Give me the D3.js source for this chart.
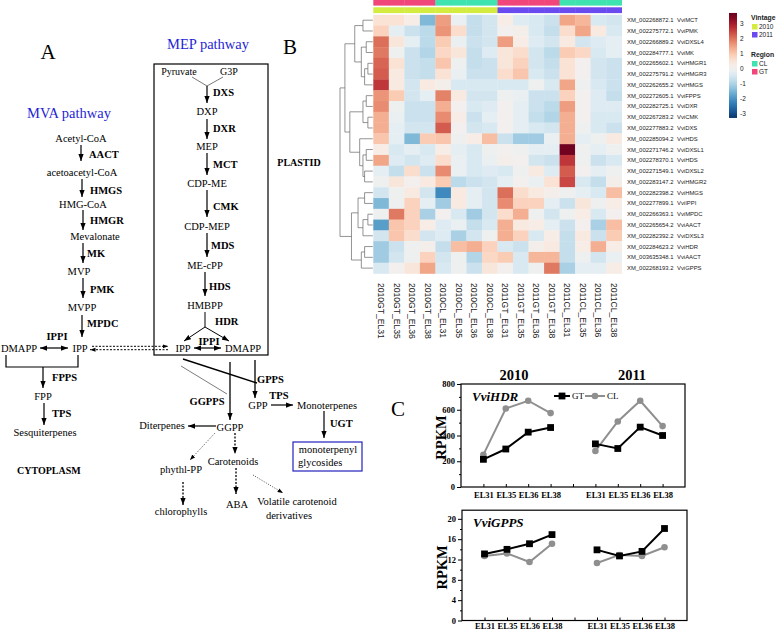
<!DOCTYPE html>
<html><head><meta charset="utf-8">
<script src="https://cdn.jsdelivr.net/npm/d3@7"></script>
<style>body{margin:0;background:#fff}svg{display:block}</style>
</head><body>
<svg id="c" width="779" height="633"></svg>
<script>
// ================= DATA =================
// --- Panel B heatmap ---
const heatColumns = ["2010GT_EL31","2010GT_EL35","2010GT_EL36","2010GT_EL38","2010CL_EL31","2010CL_EL35","2010CL_EL36","2010CL_EL38",
                     "2011GT_EL31","2011GT_EL35","2011GT_EL36","2011GT_EL38","2011CL_EL31","2011CL_EL35","2011CL_EL36","2011CL_EL38"];
const columnVintage = ["2010","2010","2010","2010","2010","2010","2010","2010","2011","2011","2011","2011","2011","2011","2011","2011"];
const columnRegion  = ["GT","GT","GT","GT","CL","CL","CL","CL","GT","GT","GT","GT","CL","CL","CL","CL"];
const geneIds = ["XM_002268872.1","XM_002275772.1","XM_002266889.2","XM_002284777.1","XM_002265602.1","XM_002275791.2",
  "XM_002262655.2","XM_002272605.1","XM_002282725.1","XM_002267283.2","XM_002277883.2","XM_002285094.2","XM_002271746.2",
  "XM_002278370.1","XM_002271549.1","XM_002283147.2","XM_002282398.2","XM_002277899.1","XM_002266363.1","XM_002265654.2",
  "XM_002282392.2","XM_002284623.2","XM_003635348.1","XM_002268193.2"];
const geneNames = ["VviMCT","VviPMK","VviDXSL4","VviMK","VviHMGR1","VviHMGR3","VviHMGS","VviFPPS","VviDXR","VviCMK","VviDXS",
  "VviHDS","VviDXSL1","VviHDS","VviDXSL2","VviHMGR2","VviHMGS","VviIPPI","VviMPDC","VviAACT","VviDXSL3","VviHDR","VviAACT","VviGPPS"];
const heatValues = [
 [0.5,0.5,0.2,-1.5,1.5,-0.2,-0.8,-0.6, 0.2,-0.4,-0.5,-0.7,1.4,1.2,-0.5,-0.6],
 [0.8,-0.3,-0.7,-0.9,1.6,0.6,-0.8,-0.6, 0,0.1,-0.5,-0.8,0.6,1.4,0.3,-0.5],
 [2.0,0.4,-0.3,-0.9,0.9,-0.2,-0.7,-0.6, 1.5,0.2,-0.4,-0.6,0.3,-0.6,-0.4,-0.3],
 [1.9,-0.1,-0.7,-1.0,0.7,0.4,-0.8,-0.4, 0.4,0.6,-0.6,-0.9,0.9,0.7,-0.5,-0.3],
 [2.1,0.5,-0.7,-0.8,1.0,-0.1,-0.8,-0.7, 0.4,0.8,-0.6,-0.8,0.5,0,-0.6,-0.7],
 [2.2,0.3,-0.7,-0.8,0.5,-0.2,-0.7,-0.7, 0.6,1.0,-0.5,-0.7,0.5,0,-0.6,-0.7],
 [2.6,0.3,-0.6,0.3,0.1,-0.5,-0.5,-0.5, -0.5,-0.5,-0.1,-0.5,1.4,-0.1,-0.5,-0.7],
 [1.6,0.9,-0.6,-0.3,1.8,0.3,-0.6,-0.6, -0.1,-0.2,-0.7,-0.7,0.8,0,-0.4,-0.8],
 [1.7,-0.1,-0.7,-0.7,1.3,0,-0.5,-0.4, 0,-0.3,-0.7,-0.9,1.5,0,-0.4,-0.4],
 [1.3,-0.2,-0.7,-0.7,1.7,0.2,-0.7,-0.3, 0,-0.3,-0.8,-1.0,1.3,0,-0.5,-0.5],
 [1.3,-0.3,-0.6,-0.6,2.2,0,-0.6,-0.5, 0,-0.3,-0.5,-0.6,1.3,-0.1,-0.5,-0.7],
 [1.0,-0.3,-1.5,0.9,1.0,-0.1,0.2,1.1, -0.7,-1.2,-1.2,-0.2,1.3,-0.3,-0.1,0.3],
 [0.2,-0.5,-0.3,-0.5,0.2,-0.3,-0.5,-0.1, 0,-0.1,-0.3,-0.3,3.5,-0.1,-0.3,-0.1],
 [1.4,-0.4,-0.6,-0.4,0.6,-0.2,-0.5,-0.2, 0.1,0,-0.6,-0.7,2.6,-0.1,-0.7,-0.5],
 [-0.3,-0.8,0.6,-0.7,1.7,-0.2,-0.5,-0.4, -0.5,-0.1,0.3,-0.4,2.2,0,-0.3,-0.1],
 [-0.1,0.4,0,0.3,0.9,-0.9,-0.7,-0.6, -0.3,0,-0.2,0.5,2.4,-0.5,-0.8,0.1],
 [-0.6,-0.1,0.3,-0.6,-2.2,0.3,-0.3,-0.6, 2.0,0.6,0.3,0.1,-0.1,-0.3,-0.5,1.1],
 [-1.5,-0.1,0.8,-0.3,-1.2,0.3,-0.3,-0.6, 1.7,0.8,0.8,-0.3,-0.7,0.4,-0.1,0.2],
 [-0.1,1.9,0.8,-1.1,0,-0.5,-1.2,-0.6, 0.6,1.3,-0.1,-0.6,-0.1,0.2,-0.5,0],
 [-1.9,1.0,0.8,0.2,-0.4,-0.2,-0.8,-0.5, 1.3,0.3,0.2,-0.3,-0.7,0,-1.1,1.1],
 [-0.6,1.0,0.6,-0.6,-0.4,-1.1,-0.6,-0.1, 1.3,0.8,-0.5,0.2,-0.8,0.3,-0.7,0.9],
 [-1.2,-0.7,-0.1,0.1,-0.8,1.1,1.3,0.8, -0.5,-0.7,0.1,0.3,-0.8,0.2,1.3,0.2],
 [-1.2,-0.6,-0.1,0.8,-0.6,-0.1,-1.0,0.7, 0.9,-0.5,1.2,1.2,-0.8,-0.1,-0.6,-0.2],
 [-0.5,0,0.4,1.4,-0.5,-0.1,-0.7,0.4, 0,-0.5,-0.1,1.9,-1.1,-0.3,-0.3,0.2]
];
// row dendrogram: [height, left, right]; leaves = row index
const rowTree = [10,
  [8.5,
    [5.5, [3,0,1], [3.5,[2,2,3],[2.5,[1.5,4,5],6]]],
    [7, [3,[2,7,8],[1.5,9,10]], [4,11,[3,[2,12,13],[2.5,14,15]]]]
  ],
  [6.5, [4.5,[2.5,16,17],[3,[1.5,18,19],20]], [3.5,[2.5,21,22],23]]
];
const colorTicks = [3,2,1,0,-1,-2,-3];
const vintageLevels = ["2010","2011"];
const regionLevels = ["CL","GT"];

// --- Panel C line charts ---
const stages = ["EL31","EL35","EL36","EL38"];
const years = ["2010","2011"];
const hdrGT  = [[215,295,426,462],[335,299,465,400]];
const hdrCL  = [[251,610,670,574],[280,509,670,473]];
const gppsGT = [[13.1,14.0,15.1,16.9],[13.9,12.7,13.6,18.1]];
const gppsCL = [[12.7,13.2,11.5,15.1],[11.3,12.9,12.7,14.4]];
const hdrTicks = [0,200,400,600,800];
const gppsTicks = [0,4,8,12,16,20];

// --- Panel A pathway labels ---
const mvaMetabolites = ["Acetyl-CoA","acetoacetyl-CoA","HMG-CoA","Mevalonate","MVP","MVPP","IPP","DMAPP","FPP","Sesquiterpenes"];
const mvaEnzymes = ["AACT","HMGS","HMGR","MK","PMK","MPDC","IPPI","FPPS","TPS"];
const mepMetabolites = ["Pyruvate","G3P","DXP","MEP","CDP-ME","CDP-MEP","ME-cPP","HMBPP","IPP","DMAPP"];
const mepEnzymes = ["DXS","DXR","MCT","CMK","MDS","HDS","HDR","IPPI"];
const downstreamProducts = ["GPP","Monoterpenes","GGPP","Diterpenes","Carotenoids","phythl-PP","chlorophylls","ABA","Volatile carotenoid","derivatives","monoterpenyl","glycosides"];
const downstreamEnzymes = ["GPPS","GGPPS","TPS","UGT"];

// ================= DRAW =================
const svg = d3.select("#c");
const SERIF = "'Liberation Serif','Times New Roman',serif";
const SANS = "'Liberation Sans',Arial,sans-serif";
const defs = svg.append("defs");
defs.append("marker").attr("id","ah").attr("viewBox","0 0 8 6").attr("refX",8).attr("refY",3)
  .attr("markerWidth",7).attr("markerHeight",5.5).attr("markerUnits","userSpaceOnUse").attr("orient","auto-start-reverse")
  .append("path").attr("d","M0,0L8,3L0,6Z").attr("fill","#000");
defs.append("marker").attr("id","ahs").attr("viewBox","0 0 8 6").attr("refX",8).attr("refY",3)
  .attr("markerWidth",5.5).attr("markerHeight",4.5).attr("markerUnits","userSpaceOnUse").attr("orient","auto-start-reverse")
  .append("path").attr("d","M0,0L8,3L0,6Z").attr("fill","#000");

// ---------- Panel A ----------
const gA = svg.append("g");
function txt(s,x,y,o={}){
  return gA.append("text").attr("x",x).attr("y",y).text(s)
   .attr("font-family",SERIF).attr("font-size",o.size||10.5)
   .attr("font-weight",o.bold?"bold":"normal").attr("font-style",o.italic?"italic":"normal")
   .attr("fill",o.fill||"#000").attr("text-anchor",o.anchor||"middle").attr("dominant-baseline","central");
}
function line(x1,y1,x2,y2,o={}){
  const l=gA.append("line").attr("x1",x1).attr("y1",y1).attr("x2",x2).attr("y2",y2)
   .attr("stroke",o.stroke||"#000").attr("stroke-width",o.w||1.2);
  if(o.dash) l.attr("stroke-dasharray",o.dash);
  if(o.end) l.attr("marker-end","url(#"+o.end+")");
  if(o.start) l.attr("marker-start","url(#"+o.start+")");
  return l;
}
txt("A",48,52,{size:21});
txt("B",290,47,{size:21});
txt("C",398,409,{size:21});
txt("MEP pathway",208,44,{size:14.5,fill:"#1f1fd6"});
txt("MVA pathway",69,113,{size:14.5,fill:"#1f1fd6"});
txt("PLASTID",299,162,{bold:true,size:10});
txt("CYTOPLASM",17,470,{bold:true,size:10,anchor:"start"});

// MVA layout
const mvaMetPos = [[81,138],[82,172],[83,204],[95,236],[79,271],[82,307],[80,348],[19,348],[43,396],[45,432]];
mvaMetabolites.forEach((s,i)=>txt(s,mvaMetPos[i][0],mvaMetPos[i][1],{size:10.5}));
const mvaEnzPos = [[89,154,"start"],[90,190,"start"],[90,220,"start"],[87,253,"start"],[90,289,"start"],[87,323,"start"],[57,336,"middle"],[52,377,"start"],[52,413,"start"]];
mvaEnzymes.forEach((s,i)=>txt(s,mvaEnzPos[i][0],mvaEnzPos[i][1],{bold:true,anchor:mvaEnzPos[i][2]}));
[[81,145,81,161],[82,179,82,197],[83,210,83,230],[83,243,83,263],[83,278,83,298],[82,315,82,337],[43,367,43,388],[44,403,44,425]]
  .forEach(a=>line(a[0],a[1],a[2],a[3],{end:"ah"}));
line(40,348,68,348,{start:"ah",end:"ah"});
gA.append("polyline").attr("points","6,355 6,367 78,367 78,355").attr("fill","none").attr("stroke","#000").attr("stroke-width",1.2);
line(92,346.3,168,346.3,{dash:"2,1.5",end:"ahs",w:1});
line(168,349.7,90,349.7,{dash:"2,1.5",end:"ahs",w:1});

// MEP box
gA.append("rect").attr("x",154).attr("y",64).attr("width",114).attr("height",291).attr("fill","none").attr("stroke","#000").attr("stroke-width",1.2);
const mepMetPos = [[179,71],[229,71],[207,111],[207,146],[207,183],[207,226],[205,265],[205,305],[183,348],[243,348]];
mepMetabolites.forEach((s,i)=>txt(s,mepMetPos[i][0],mepMetPos[i][1],{size:(i<2?10:10.5)}));
const mepEnzPos = [[213,92,"start"],[213,128,"start"],[213,164,"start"],[213,206,"start"],[211,245,"start"],[209,286,"start"],[215,321,"start"],[209,341,"middle"]];
mepEnzymes.forEach((s,i)=>txt(s,mepEnzPos[i][0],mepEnzPos[i][1],{bold:true,anchor:mepEnzPos[i][2]}));
line(192,77,207,86,{w:0.8,stroke:"#555"}); line(223,77,207,86,{w:0.8,stroke:"#555"});
[[207,86,207,103],[207,119,207,139],[207,153,207,175],[207,190,207,217],[207,233,207,257],[205,272,205,296]]
  .forEach(a=>line(a[0],a[1],a[2],a[3],{end:"ah"}));
line(205,312,205,327,{w:1});
line(205,327,184,341,{end:"ah",w:1}); line(205,327,229,341,{end:"ah",w:1});
line(194,348,221,348,{start:"ah",end:"ah"});

// downstream
line(183,359,257,383,{w:1.4});
line(181,366,227,394,{w:0.7,stroke:"#444"});
line(230,362,230,420,{end:"ah",w:1.3});
line(255,360,255,398,{end:"ah",w:1.3});
line(271,405,293,405,{end:"ah"});
line(324,411,324,438,{end:"ah"});
line(216,426,188,426,{end:"ah"});
line(235,433,235,454,{dash:"2,1.5",end:"ah",w:1.3});
line(215,433,190,460,{dash:"1,1.5",end:"ahs",w:0.7});
line(183,482,183,505,{dash:"2,1.5",end:"ah",w:1.3});
line(236,468,236,494,{dash:"2,1.5",end:"ah",w:1.3});
line(253,475,283,493,{dash:"1,1.5",end:"ahs",w:0.7});
gA.append("rect").attr("x",293).attr("y",442).attr("width",69).attr("height",29).attr("fill","none").attr("stroke","#2222bb").attr("stroke-width",1.2);
const downPos = [[258,405,"middle"],[327,405,"middle"],[230,427,"middle"],[162,425,"middle"],[233,461,"middle"],[181,469,"middle"],[181,511,"middle"],[237,504,"middle"],[297,501,"middle"],[289,515,"middle"],[328,449,"middle"],[298,462,"start"]];
downstreamProducts.forEach((s,i)=>txt(s,downPos[i][0],downPos[i][1],{anchor:downPos[i][2]}));
const downEnzPos = [[257,379,"start"],[207,401,"middle"],[279,395,"middle"],[330,423,"start"]];
downstreamEnzymes.forEach((s,i)=>txt(s,downEnzPos[i][0],downEnzPos[i][1],{bold:true,anchor:downEnzPos[i][2]}));

// ---------- Panel B heatmap ----------
const gB = svg.append("g");
const nCol = heatColumns.length, nRow = geneIds.length;
const hx = d3.scaleBand().domain(d3.range(nCol)).range([373.3,621.7]);
const hy = d3.scaleBand().domain(d3.range(nRow)).range([14.8,273.5]);
const hcolor = d3.scaleDiverging(t=>d3.interpolateRdBu(1-t)).domain([-3.4,0,3.6]);
heatValues.forEach((row,r)=>row.forEach((v,c)=>{
  gB.append("rect").attr("x",hx(c)).attr("y",hy(r)).attr("width",hx.bandwidth()+0.3).attr("height",hy.bandwidth()+0.3).attr("fill",hcolor(v));
}));
const vintageColor = d3.scaleOrdinal().domain(vintageLevels).range(["#d4eb3f","#6a4bef"]);
const regionColor = d3.scaleOrdinal().domain(regionLevels).range(["#3ee3b0","#f0467a"]);
columnRegion.forEach((g,c)=>gB.append("rect").attr("x",hx(c)).attr("y",0).attr("width",hx.bandwidth()+0.3).attr("height",5.6).attr("fill",regionColor(g)));
columnVintage.forEach((g,c)=>gB.append("rect").attr("x",hx(c)).attr("y",7.3).attr("width",hx.bandwidth()+0.3).attr("height",5.8).attr("fill",vintageColor(g)));
// column labels
heatColumns.forEach((s,c)=>{
  gB.append("text").attr("transform",`translate(${hx(c)+hx.bandwidth()/2},283) rotate(90)`)
   .attr("font-family",SANS).attr("font-size",8.6).attr("dominant-baseline","central").attr("fill","#222").text(s);
});
geneIds.forEach((s,r)=>{
  const y=hy(r)+hy.bandwidth()/2;
  gB.append("text").attr("x",627).attr("y",y).attr("font-family",SANS).attr("font-size",5.9).attr("dominant-baseline","central").attr("fill","#222").text(s);
  gB.append("text").attr("x",677).attr("y",y).attr("font-family",SANS).attr("font-size",5.9).attr("dominant-baseline","central").attr("fill","#222").text(geneNames[r]);
});
// dendrogram
const dx = d3.scaleLinear().domain([0,10]).range([372.8,340]);
function dendro(node){
  if(typeof node==="number") return {y:hy(node)+hy.bandwidth()/2,h:0};
  const a=dendro(node[1]), b=dendro(node[2]), X=dx(node[0]);
  [a,b].forEach(k=>gB.append("line").attr("x1",dx(k.h)).attr("x2",X).attr("y1",k.y).attr("y2",k.y).attr("stroke","#666").attr("stroke-width",0.7));
  gB.append("line").attr("x1",X).attr("x2",X).attr("y1",a.y).attr("y2",b.y).attr("stroke","#666").attr("stroke-width",0.7);
  return {y:(a.y+b.y)/2,h:node[0]};
}
dendro(rowTree);
// colorbar
const cbY = d3.scaleLinear().domain([-3,3]).range([113,23]);
const grad = defs.append("linearGradient").attr("id","cb").attr("x1",0).attr("y1",0).attr("x2",0).attr("y2",1);
d3.range(0,1.0001,0.05).forEach(t=>{
  const v = cbY.invert(cbY(3.67)+t*(cbY(-3.33)-cbY(3.67)));
  grad.append("stop").attr("offset",t).attr("stop-color",hcolor(v));
});
gB.append("rect").attr("x",729).attr("y",cbY(3.67)).attr("width",8).attr("height",cbY(-3.33)-cbY(3.67)).attr("fill","url(#cb)");
colorTicks.forEach(v=>gB.append("text").attr("x",740).attr("y",cbY(v)).attr("font-family",SANS).attr("font-size",6.5)
  .attr("dominant-baseline","central").attr("fill","#222").text(v));
// legends
function legendBlock(title,levels,scale,y0){
  gB.append("text").attr("x",751).attr("y",y0).attr("font-family",SANS).attr("font-size",6.8).attr("font-weight","bold").attr("fill","#222").text(title);
  levels.forEach((l,i)=>{
    const y=y0+4+i*8;
    gB.append("rect").attr("x",752).attr("y",y).attr("width",5.5).attr("height",5.5).attr("fill",scale(l));
    gB.append("text").attr("x",759).attr("y",y+2.9).attr("font-family",SANS).attr("font-size",6.5).attr("dominant-baseline","central").attr("fill","#222").text(l);
  });
}
legendBlock("Vintage",vintageLevels,vintageColor,20);
legendBlock("Region",regionLevels,regionColor,57);

// ---------- Panel C ----------
const gC = svg.append("g");
function panel(cfg){
  const x = d3.scaleLinear().domain([0,10]).range([cfg.x0,cfg.x1]);
  const y = d3.scaleLinear().domain([0,cfg.ymax]).range([cfg.yb,cfg.yt]);
  const g = gC.append("g");
  g.append("rect").attr("x",cfg.x0).attr("y",cfg.yt).attr("width",cfg.x1-cfg.x0).attr("height",cfg.yb-cfg.yt)
   .attr("fill","none").attr("stroke","#000").attr("stroke-width",1.2);
  const ya = g.append("g").attr("transform",`translate(${cfg.x0},0)`)
   .call(d3.axisLeft(y).tickValues(cfg.ticks).tickSize(4).tickPadding(2).tickFormat(d3.format("d")));
  ya.select(".domain").remove();
  ya.selectAll("text").attr("font-family",SERIF).attr("font-weight","bold").attr("font-size",8.5);
  const ym = g.append("g").attr("transform",`translate(${cfg.x0},0)`)
   .call(d3.axisLeft(y).tickValues(cfg.minor).tickSize(2).tickFormat(""));
  ym.select(".domain").remove();
  const pos = d3.range(1,10);
  const xa = g.append("g").attr("transform",`translate(0,${cfg.yb})`)
   .call(d3.axisBottom(x).tickValues(pos).tickSizeInner(-3).tickSizeOuter(0).tickPadding(cfg.pad)
   .tickFormat(p=> p===5?"":stages[(p-1)%5]));
  xa.select(".domain").remove();
  xa.selectAll("text").attr("font-family",SERIF).attr("font-weight","bold").attr("font-size",8.5);
  g.selectAll(".tick line").attr("stroke-width",1);
  years.forEach((yr,k)=>{
    const px = i=>x(1+i+5*k);
    const lg = d3.line().x((d,i)=>px(i)).y(d=>y(d));
    g.append("path").attr("d",lg(cfg.cl[k])).attr("fill","none").attr("stroke","#8f8f8f").attr("stroke-width",2);
    cfg.cl[k].forEach((d,i)=>g.append("circle").attr("cx",px(i)).attr("cy",y(d)).attr("r",3.3).attr("fill","#8f8f8f"));
    g.append("path").attr("d",lg(cfg.gt[k])).attr("fill","none").attr("stroke","#000").attr("stroke-width",2);
    cfg.gt[k].forEach((d,i)=>g.append("rect").attr("x",px(i)-3.4).attr("y",y(d)-3.4).attr("width",6.8).attr("height",6.8).attr("fill","#000"));
  });
  g.append("text").attr("x",cfg.x0+11).attr("y",cfg.labelY).attr("font-family",SERIF).attr("font-weight","bold").attr("font-style","italic")
   .attr("font-size",13).text(cfg.gene);
  g.append("text").attr("transform",`translate(${cfg.x0-15},${(cfg.yt+cfg.yb)/2+2}) rotate(-90)`).attr("text-anchor","middle")
   .attr("font-family",SERIF).attr("font-weight","bold").attr("font-size",14.5).text("RPKM");
  return {x,y,g};
}
const hdrPanel = panel({x0:461,x1:685,yt:384,yb:487,ymax:800,ticks:hdrTicks,minor:[100,300,500,700],gt:hdrGT,cl:hdrCL,gene:"VviHDR",labelY:401,pad:5});
panel({x0:462,x1:687,yt:510.2,yb:620.5,ymax:21.7,ticks:gppsTicks,minor:[2,6,10,14,18],gt:gppsGT,cl:gppsCL,gene:"VviGPPS",labelY:527,pad:2});
// year titles
years.forEach((yr,k)=>gC.append("text").attr("x",hdrPanel.x(2.5+5*k)+(k?3:-3)).attr("y",380).attr("text-anchor","middle")
  .attr("font-family",SERIF).attr("font-weight","bold").attr("font-size",14.5).text(yr));
// legend
const lgY = 396;
gC.append("line").attr("x1",554).attr("x2",570).attr("y1",lgY).attr("y2",lgY).attr("stroke","#000").attr("stroke-width",2);
gC.append("rect").attr("x",562-3.4).attr("y",lgY-3.4).attr("width",6.8).attr("height",6.8).attr("fill","#000");
gC.append("text").attr("x",572).attr("y",lgY).attr("dominant-baseline","central").attr("font-family",SERIF).attr("font-size",9).text("GT");
gC.append("line").attr("x1",585).attr("x2",605).attr("y1",lgY).attr("y2",lgY).attr("stroke","#8f8f8f").attr("stroke-width",2);
gC.append("circle").attr("cx",595).attr("cy",lgY).attr("r",3.3).attr("fill","#8f8f8f");
gC.append("text").attr("x",607).attr("y",lgY).attr("dominant-baseline","central").attr("font-family",SERIF).attr("font-size",9).text("CL");
</script>
</body></html>
